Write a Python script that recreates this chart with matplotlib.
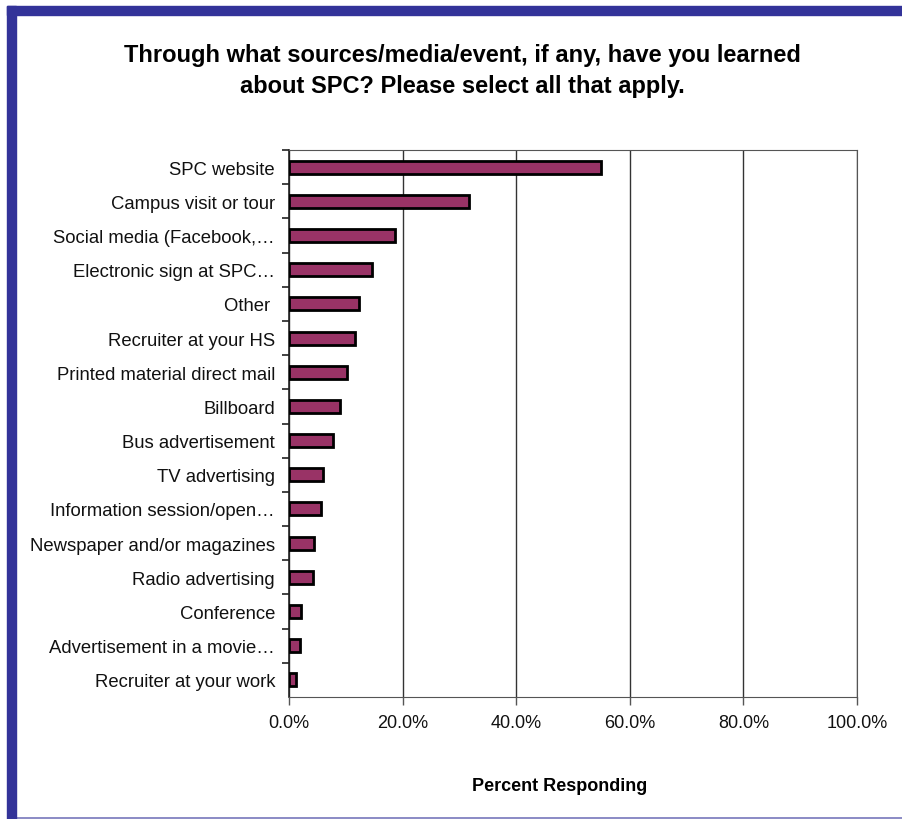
import matplotlib.pyplot as plt
from matplotlib.patches import Rectangle
from matplotlib.lines import Line2D
from matplotlib.ticker import FuncFormatter

plt.rcParams['font.family'] = ['Liberation Sans', 'DejaVu Sans']

# dati (dall'alto verso il basso)
fonti = ['SPC website', 'Campus visit or tour', 'Social media (Facebook,…',
         'Electronic sign at SPC…', 'Other ', 'Recruiter at your HS',
         'Printed material direct mail', 'Billboard', 'Bus advertisement',
         'TV advertising', 'Information session/open…', 'Newspaper and/or magazines',
         'Radio advertising', 'Conference', 'Advertisement in a movie…',
         'Recruiter at your work']
percentuali = [55.0, 31.7, 18.6, 14.7, 12.3, 11.7, 10.2, 9.0, 7.8,
               6.0, 5.6, 4.4, 4.2, 2.2, 1.9, 1.2]
tick_x = [0, 20, 40, 60, 80, 100]

fig = plt.figure(figsize=(9.03, 8.2), dpi=100)
ax = fig.add_axes([289/903, 1 - 698/820, 568/903, 547/820])

pos = list(range(len(fonti)))
ax.barh(pos, percentuali, height=0.38, color='#993366', edgecolor='black', linewidth=2, zorder=3)
ax.set_ylim(len(fonti) - 0.5, -0.5)
ax.set_xlim(0, 100)
ax.set_xticks(tick_x)
ax.xaxis.set_major_formatter(FuncFormatter(lambda v, p: f'{v:.1f}%'))
ax.set_yticks(pos)
ax.set_yticklabels(fonti)
ax.set_yticks([p + 0.5 for p in pos[:-1]] + [-0.5], minor=True)
ax.tick_params(axis='y', which='major', length=0, pad=10, labelsize=13.3, labelcolor='#111111')
ax.tick_params(axis='y', which='minor', length=5, width=1.2, color='#222222', direction='out')
ax.tick_params(axis='x', length=6, width=1, color='#555555', pad=6, labelsize=13, labelcolor='#111111')
ax.grid(axis='x', color='#333333', linewidth=1, zorder=0)
for s in ['top', 'right', 'bottom']:
    ax.spines[s].set_color('#555555')
ax.spines['left'].set_color('#222222')
ax.spines['left'].set_linewidth(1.2)

ax.set_xlabel('Percent Responding', fontsize=13, fontweight='bold')
ax.xaxis.set_label_coords((560 - 289) / 568, (698 - 778) / 547)

fig.text(462/903, 1 - 71/820,
         'Through what sources/media/event, if any, have you learned\nabout SPC? Please select all that apply.',
         ha='center', va='center', fontsize=17, fontweight='bold', linespacing=1.4)

# cornice blu
fig.patches.append(Rectangle((7/903, 0), 9/903, 1 - 7/820, transform=fig.transFigure,
                             color='#333399', zorder=10))
fig.patches.append(Rectangle((7/903, 1 - 16/820), 1, 9/820, transform=fig.transFigure,
                             color='#333399', zorder=10))
fig.lines.append(Line2D([16/903, 1], [1 - 819/820, 1 - 819/820], transform=fig.transFigure,
                        color='#7777bb', linewidth=1.2))

fig.savefig('out.png', dpi=100)
